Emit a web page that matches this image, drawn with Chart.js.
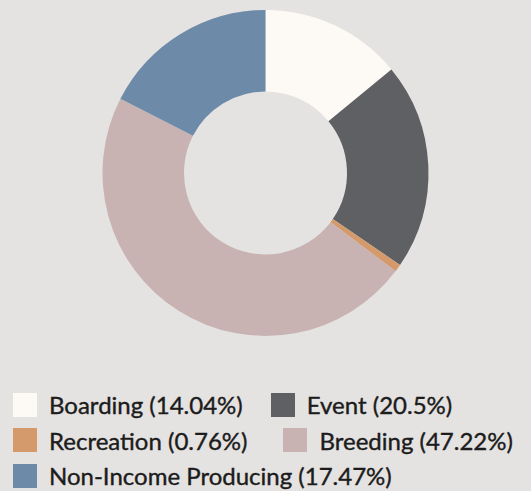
<!DOCTYPE html>
<html>
<head>
<meta charset="utf-8">
<script src="https://cdn.jsdelivr.net/npm/chart.js@4"></script>
<style>
  html, body { margin: 0; padding: 0; }
  body {
    width: 531px; height: 491px; overflow: hidden;
    background: #e5e3e2; position: relative;
    font-family: Lato, "Open Sans", sans-serif;
  }
  #chart-box { position: absolute; left: 0; top: 10px; width: 531px; height: 326px; }
  #legend { position: absolute; left: 13px; top: 387px; color: #1c1c1c; font-size: 24px; -webkit-text-stroke: 0.4px #1c1c1c; }
  .row { display: flex; height: 35.5px; align-items: center; }
  .item { display: flex; align-items: center; white-space: nowrap; }
  .swatch { width: 24px; height: 24px; margin-right: 12px; flex: none; }
</style>
</head>
<body>
<div id="chart-box"><canvas id="chartCanvas"></canvas></div>
<div id="legend"></div>
<script>
const categories = ["Boarding", "Event", "Recreation", "Breeding", "Non-Income Producing"];
const shares = [14.04, 20.5, 0.76, 47.22, 17.47];
const colors = ["#fdfaf6", "#5f6064", "#d49a6c", "#c8b3b2", "#6d8ba8"];
// legend rows as in the picture: index lists + left margin of the second item
const legendRows = [[0, 1], [2, 3], [4]];
const secondGap = [28, 36];

document.addEventListener("DOMContentLoaded", () => {
  const ctx = document.getElementById("chartCanvas").getContext("2d");

  new Chart(ctx, {
    type: "doughnut",
    data: {
      labels: categories,
      datasets: [{
        data: shares,
        backgroundColor: colors,
        borderWidth: 0,
      }],
    },
    options: {
      responsive: true,
      maintainAspectRatio: false,
      animation: false,
      cutout: "50%",
      plugins: { legend: { display: false }, tooltip: { enabled: false } },
    },
  });

  // HTML legend
  const legend = document.getElementById("legend");
  legendRows.forEach((row, r) => {
    const rowEl = document.createElement("div");
    rowEl.className = "row";
    row.forEach((i, k) => {
      const item = document.createElement("div");
      item.className = "item";
      if (k > 0) item.style.marginLeft = secondGap[r] + "px";
      const sw = document.createElement("span");
      sw.className = "swatch";
      sw.style.background = colors[i];
      const txt = document.createElement("span");
      txt.textContent = `${categories[i]} (${shares[i]}%)`;
      item.appendChild(sw);
      item.appendChild(txt);
      rowEl.appendChild(item);
    });
    legend.appendChild(rowEl);
  });
});
</script>
</body>
</html>
